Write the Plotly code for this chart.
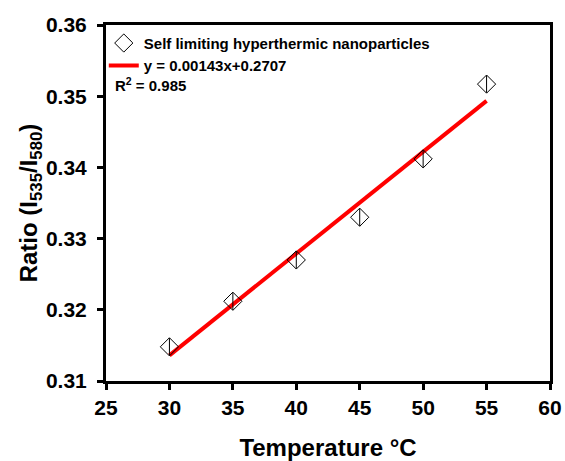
import plotly.graph_objects as go

temperature = [30, 35, 40, 45, 50, 55]
ratio = [0.3148, 0.3212, 0.3270, 0.3330, 0.3412, 0.3517]
slope = 0.00143
intercept = 0.2707
fit_x = [30, 55]
fit_y = [slope * x + intercept for x in fit_x]

x_ticks = [25, 30, 35, 40, 45, 50, 55, 60]
y_ticks = [0.31, 0.32, 0.33, 0.34, 0.35, 0.36]

fig = go.Figure()
fig.add_trace(go.Scatter(
    x=fit_x, y=fit_y, mode="lines",
    line=dict(color="#ff0000", width=4),
    name="y = 0.00143x+0.2707", legendrank=2))
fig.add_trace(go.Scatter(
    x=temperature, y=ratio, mode="markers",
    marker=dict(symbol="diamond-open", size=14, color="black", line=dict(width=1)),
    name="Self limiting hyperthermic nanoparticles", legendrank=1))
fig.add_trace(go.Scatter(
    x=temperature, y=ratio, mode="markers", showlegend=False,
    marker=dict(symbol="line-ns-open", size=12.5, color="black", line=dict(width=1, color="black"))))

fig.add_annotation(x=0.015, y=0.832, xref="paper", yref="paper", xanchor="left", yanchor="middle",
                   text="R<sup>2</sup> = 0.985", showarrow=False,
                   font=dict(family="Arial", size=15, color="black", weight="bold"))

axis_common = dict(showline=True, linewidth=3, linecolor="black", mirror=True,
                   ticks="outside", ticklen=6, tickwidth=3, tickcolor="black",
                   showgrid=False, zeroline=False, automargin=False,
                   tickfont=dict(family="Arial", size=21, color="black", weight="bold"))

fig.update_xaxes(range=[25, 60], tickvals=x_ticks, ticktext=[str(v) for v in x_ticks],
                 title=dict(text="Temperature °C", standoff=22,
                            font=dict(family="Arial", size=24, color="black", weight="bold")),
                 **axis_common)
fig.update_yaxes(range=[0.31, 0.36], tickvals=y_ticks, ticktext=[f"{v:.2f}" for v in y_ticks],
                 ticklabelstandoff=6,
                 title=dict(text="Ratio (I<sub>535</sub>/I<sub>580</sub>)", standoff=2,
                            font=dict(family="Arial", size=24, color="black", weight="bold")),
                 **axis_common)

fig.update_layout(
    width=565, height=461,
    margin=dict(l=106, r=15, t=25, b=80),
    plot_bgcolor="white", paper_bgcolor="white",
    legend=dict(x=-0.005, y=0.995, xanchor="left", yanchor="top", bgcolor="rgba(0,0,0,0)",
                font=dict(family="Arial", size=15, color="black", weight="bold"),
                tracegroupgap=0, itemwidth=30),
)

fig.write_html("out.html")
